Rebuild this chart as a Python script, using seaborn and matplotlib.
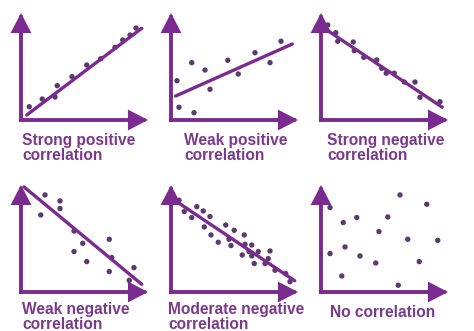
import matplotlib
matplotlib.use("Agg")
import matplotlib.pyplot as plt
import seaborn as sns
import pandas as pd

sns.set_theme(style="white")
plt.rcParams['font.family'] = ['Liberation Sans', 'DejaVu Sans']

# ---- data (0-10 scale on both axes) ----
titles = ["Strong positive\ncorrelation", "Weak positive\ncorrelation",
          "Strong negative\ncorrelation", "Weak negative\ncorrelation",
          "Moderate negative\ncorrelation", "No correlation"]

p1_x = [0.66, 1.70, 2.72, 2.90, 4.08, 5.26, 6.38, 7.52, 8.14, 8.72, 9.20]
p1_y = [1.24, 1.96, 2.15, 3.21, 4.05, 5.14, 5.73, 6.79, 7.48, 7.94, 8.60]
p1_line = ([0.46, 9.66], [0.47, 8.57])

p2_x = [0.48, 0.64, 1.66, 1.84, 2.72, 3.12, 4.54, 5.38, 6.72, 7.92, 8.80]
p2_y = [3.67, 1.19, 5.36, 0.68, 4.67, 2.87, 5.58, 4.30, 6.29, 5.36, 7.36]
p2_line = ([0.37, 9.70], [2.24, 7.10])

p3_x = [0.54, 1.18, 1.34, 2.58, 2.66, 3.42, 4.46, 4.86, 5.22, 5.86, 6.66, 7.52, 7.92, 9.52]
p3_y = [8.88, 8.16, 7.36, 7.29, 6.48, 5.86, 5.61, 4.83, 4.37, 4.37, 3.55, 3.55, 2.12, 1.71]
p3_line = ([0.37, 9.70], [8.48, 1.19])

p4_x = [0.32, 1.92, 3.12, 3.12, 1.58, 4.24, 4.94, 4.24, 5.26, 7.06, 7.26, 7.06, 9.04, 8.66]
p4_y = [8.45, 9.07, 8.51, 7.80, 7.20, 5.70, 4.55, 3.78, 2.84, 4.93, 3.22, 1.91, 2.28, 1.09]
p4_line = ([0.24, 9.66], [9.82, 0.72])

p5_x = [0.64, 1.06, 1.66, 2.06, 2.58, 2.66, 3.12, 3.20, 3.78, 4.38, 4.64, 4.80, 5.06, 5.86,
        5.92, 5.70, 6.46, 6.24, 6.46, 6.66, 6.98, 7.52, 7.92, 7.78, 8.32, 9.18, 9.52]
p5_y = [8.57, 7.52, 6.96, 7.98, 7.57, 6.08, 7.05, 5.33, 4.65, 6.26, 4.93, 4.34, 5.77, 5.33,
        4.46, 3.46, 4.39, 3.78, 3.37, 2.66, 3.78, 2.66, 3.83, 3.12, 2.03, 1.72, 0.97]
p5_line = ([0.37, 9.90], [8.51, 1.05])

p6_x = [0.72, 1.78, 2.86, 5.34, 6.32, 8.46, 4.64, 6.94, 9.34, 1.92, 0.72, 3.12, 4.38, 7.86, 1.66, 6.18]
p6_y = [7.89, 6.49, 6.96, 7.01, 9.07, 8.20, 5.65, 4.93, 4.83, 4.21, 3.59, 3.37, 2.71, 2.84, 1.50, 0.63]
p6_line = None

panels = [(p1_x, p1_y, p1_line), (p2_x, p2_y, p2_line), (p3_x, p3_y, p3_line),
          (p4_x, p4_y, p4_line), (p5_x, p5_y, p5_line), (p6_x, p6_y, p6_line)]

# ---- layout (pixels) ----
W, H = 474, 331
AXIS_C = "#7b2b8f"
DOT_C = "#5b3a6e"
TEXT_C = "#7a3a8c"

corners = [(21, 120), (171, 120), (321, 120), (21, 292), (171, 292), (321, 292)]
text_pos = [(22, 133), (184, 133), (327, 133), (22, 302), (168, 302), (330, 305)]
AW, AH = 127, 107

fig = plt.figure(figsize=(W / 100, H / 100), dpi=100)
fig.patch.set_facecolor("white")

for i, ((xs, ys, line), (cx, cy), (tx, ty)) in enumerate(zip(panels, corners, text_pos)):
    ax = fig.add_axes([cx / W, (H - cy) / H, AW / W, AH / H])
    ax.set_xlim(0, 10.16)
    ax.set_ylim(0, 10)
    ax.axis("off")
    df = pd.DataFrame({"x": xs, "y": ys})
    sns.scatterplot(data=df, x="x", y="y", ax=ax, color=DOT_C, s=15,
                    edgecolor="none", clip_on=False, zorder=3)
    if line is not None:
        sns.lineplot(x=line[0], y=line[1], ax=ax, color=AXIS_C, lw=2.4,
                     sort=False, clip_on=False, zorder=4)
    ax.set_xlabel("")
    ax.set_ylabel("")
    arrow = dict(arrowstyle="-|>,head_length=1.0,head_width=0.52", lw=2.8,
                 color=AXIS_C, shrinkA=0, shrinkB=0, mutation_scale=10,
                 joinstyle="miter", capstyle="projecting")
    ax.annotate("", xy=(0, 1), xytext=(0, 0), xycoords="axes fraction",
                arrowprops=arrow, annotation_clip=False)
    ax.annotate("", xy=(1, 0), xytext=(0, 0), xycoords="axes fraction",
                arrowprops=arrow, annotation_clip=False)
    fig.text(tx / W, 1 - ty / H, titles[i], ha="left", va="top",
             fontsize=11.2, fontweight="bold", color=TEXT_C, linespacing=0.98)

fig.savefig("out.png", dpi=100, facecolor="white")
